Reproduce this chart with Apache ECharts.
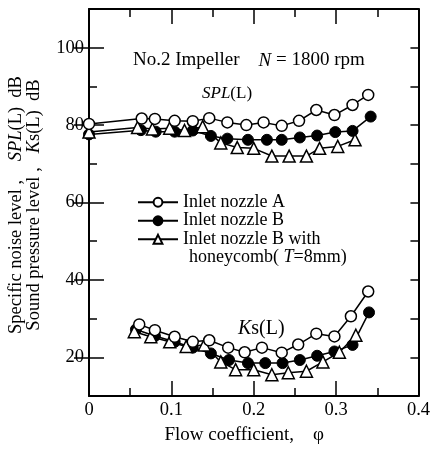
<!DOCTYPE html>
<html><head><meta charset="utf-8">
<script src="https://cdn.jsdelivr.net/npm/echarts@6/dist/echarts.min.js"></script>
<style>html,body{margin:0;padding:0;background:#fff}#c{width:433px;height:450px}</style>
</head><body><div id="c"></div>
<script>
// ---- data ----
const splA_phi = [0, 0.064, 0.08, 0.104, 0.126, 0.146, 0.168, 0.191, 0.212, 0.234, 0.255, 0.276, 0.298, 0.32, 0.339];
const splA     = [80.3, 81.7, 81.6, 81.1, 81.0, 81.8, 80.7, 80.0, 80.7, 79.8, 81.1, 83.9, 82.6, 85.2, 87.8];
const splB_phi = [0, 0.063, 0.081, 0.104, 0.126, 0.148, 0.168, 0.193, 0.216, 0.234, 0.256, 0.277, 0.299, 0.32, 0.342];
const splB     = [77.6, 78.7, 78.3, 78.3, 78.6, 77.2, 76.5, 76.2, 76.2, 76.2, 76.8, 77.3, 78.2, 78.5, 82.2];
const splT_phi = [0, 0.059, 0.077, 0.098, 0.116, 0.138, 0.16, 0.18, 0.2, 0.222, 0.243, 0.264, 0.28, 0.302, 0.323];
const splT     = [78.2, 79.4, 79.0, 79.2, 78.6, 79.6, 75.4, 74.2, 74.0, 72.0, 72.0, 72.0, 74.0, 74.5, 76.2];

const ksA_phi = [0.061, 0.08, 0.104, 0.126, 0.146, 0.169, 0.189, 0.21, 0.234, 0.254, 0.276, 0.298, 0.318, 0.339];
const ksA     = [28.5, 27.0, 25.3, 24.0, 24.4, 22.5, 21.3, 22.5, 21.2, 23.3, 26.1, 25.4, 30.6, 37.0];
const ksB_phi = [0.057, 0.08, 0.104, 0.126, 0.148, 0.17, 0.193, 0.214, 0.235, 0.256, 0.277, 0.298, 0.32, 0.34];
const ksB     = [27.2, 25.5, 24.0, 22.5, 21.0, 19.3, 18.5, 18.5, 18.5, 19.3, 20.4, 21.5, 23.2, 31.6];
const ksT_phi = [0.055, 0.075, 0.098, 0.118, 0.14, 0.16, 0.178, 0.2, 0.222, 0.242, 0.264, 0.284, 0.304, 0.324];
const ksT     = [26.6, 25.3, 24.0, 22.8, 23.2, 18.8, 16.8, 16.8, 15.5, 16.0, 16.4, 18.8, 21.3, 25.7];

const seriesNames = ['Inlet nozzle A', 'Inlet nozzle B', 'Inlet nozzle B with'];
const yMajorTicks = [20, 40, 60, 80, 100];

// ---- chart ----
const FONT = '"Liberation Serif", "Times New Roman", serif';
const chart = echarts.init(document.getElementById('c'), null, {renderer: 'canvas'});
const pairs = (xs, ys) => xs.map((x, i) => [x, ys[i]]);

const lineW = 1.5;
function mkSeries(name, xs, ys, kind) {
  const s = {
    name, type: 'line', data: pairs(xs, ys), clip: false,
    xAxisIndex: 0, yAxisIndex: 0,
    lineStyle: {color: '#000', width: lineW},
    symbolSize: 11,
    itemStyle: {color: '#fff', borderColor: '#000', borderWidth: 1.5},
    emphasis: {disabled: true}, animation: false
  };
  if (kind === 'A') { s.symbol = 'circle'; s.z = 5; }
  if (kind === 'B') { s.symbol = 'circle'; s.itemStyle = {color: '#000', borderColor: '#000', borderWidth: 1}; s.z = 3; }
  if (kind === 'T') { s.symbol = 'triangle'; s.symbolSize = 12; s.z = 4; }
  return s;
}

const tickStyle = {color: '#000', width: 1.5};
const lbl = {fontFamily: FONT, fontSize: 18.5, color: '#000'};
const rich = (fs) => ({
  r: {fontFamily: FONT, fontSize: fs, fill: '#000', lineHeight: 18},
  i: {fontFamily: FONT, fontSize: fs, fontStyle: 'italic', fill: '#000', lineHeight: 18}
});

const option = {
  animation: false,
  backgroundColor: '#fff',
  grid: {left: 89, right: 11, top: 9, bottom: 50},
  legend: {
    data: seriesNames, orient: 'vertical', left: 132, top: 188,
    itemWidth: 40, itemHeight: 11, itemGap: 0, itemTextGap: 13,
    textStyle: {fontFamily: FONT, fontSize: 18, color: '#000', lineHeight: 18.5},
    selectedMode: false
  },
  xAxis: [
    {type: 'value', min: 0, max: 0.4, interval: 0.1, position: 'bottom',
     axisLine: {show: true, onZero: false, lineStyle: {color: '#000', width: 2}},
     axisTick: {inside: true, length: 15, lineStyle: tickStyle},
     minorTick: {show: true, splitNumber: 2, length: 8, lineStyle: tickStyle},
     splitLine: {show: false},
     axisLabel: Object.assign({margin: 5}, lbl),
     name: 'Flow coefficient,    \u03c6    ', nameLocation: 'middle', nameGap: 30,
     nameTextStyle: {fontFamily: FONT, fontSize: 19, color: '#000'}},
    {type: 'value', min: 0, max: 0.4, interval: 0.1, position: 'top',
     axisLine: {show: true, onZero: false, lineStyle: {color: '#000', width: 2}},
     axisTick: {inside: true, length: 15, lineStyle: tickStyle},
     minorTick: {show: true, splitNumber: 2, length: 8, lineStyle: tickStyle},
     splitLine: {show: false}, axisLabel: {show: false}}
  ],
  yAxis: [
    {type: 'value', min: 10, max: 110, interval: 10, position: 'left',
     axisLine: {show: true, onZero: false, lineStyle: {color: '#000', width: 2}},
     axisTick: {inside: true, length: 8, lineStyle: tickStyle},
     splitLine: {show: false},
     axisLabel: Object.assign({margin: 5, formatter: v => (yMajorTicks.indexOf(v) >= 0 ? String(v) : '')}, lbl)},
    {type: 'value', min: 10, max: 110, interval: 10, position: 'left',
     axisLine: {show: false},
     axisTick: {inside: true, length: 15, lineStyle: tickStyle, customValues: yMajorTicks},
     splitLine: {show: false}, axisLabel: {show: false}},
    {type: 'value', min: 10, max: 110, interval: 10, position: 'right',
     axisLine: {show: true, onZero: false, lineStyle: {color: '#000', width: 2}},
     axisTick: {inside: true, length: 8, lineStyle: tickStyle},
     splitLine: {show: false}, axisLabel: {show: false}},
    {type: 'value', min: 10, max: 110, interval: 10, position: 'right',
     axisLine: {show: false},
     axisTick: {inside: true, length: 15, lineStyle: tickStyle, customValues: yMajorTicks},
     splitLine: {show: false}, axisLabel: {show: false}}
  ],
  series: [
    mkSeries(seriesNames[1], splB_phi, splB, 'B'),
    mkSeries(seriesNames[2], splT_phi, splT, 'T'),
    mkSeries(seriesNames[0], splA_phi, splA, 'A'),
    mkSeries(seriesNames[1], ksB_phi, ksB, 'B'),
    mkSeries(seriesNames[2], ksT_phi, ksT, 'T'),
    mkSeries(seriesNames[0], ksA_phi, ksA, 'A')
  ],
  graphic: [
    {type: 'text', left: 133, top: 51, style: {
      text: '{r|No.2 Impeller    }{i|N}{r| = 1800 rpm}', rich: rich(19)}},
    {type: 'text', left: 202, top: 85, style: {
      text: '{i|SPL}{r|(L)}', rich: rich(17)}},
    {type: 'text', left: 238, top: 319, style: {
      text: '{i|K}{r|s(L)}', rich: rich(20)}},
    {type: 'text', left: 189, top: 248, style: {
      text: '{r|honeycomb( }{i|T}{r|=8mm)}', rich: rich(18)}},
    {type: 'text', x: 25, y: 205, rotation: Math.PI / 2, style: {
      text: '{r|Specific noise level ,    }{i|SPL}{r|(L)  dB}\n{r|Sound pressure level ,   }{i|K}{r|s(L)  dB}',
      align: 'center', verticalAlign: 'middle', rich: rich(18.5)}}
  ]
};
chart.setOption(option);
</script>
</body></html>
